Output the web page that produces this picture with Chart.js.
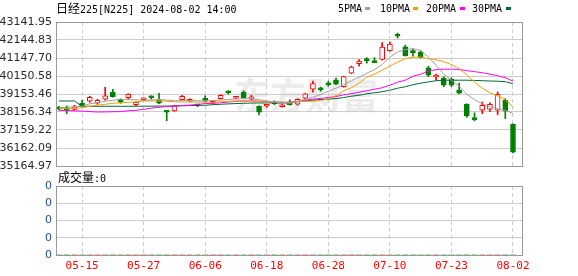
<!DOCTYPE html>
<html><head><meta charset="utf-8">
<script src="https://cdn.jsdelivr.net/npm/chart.js@4/dist/chart.umd.min.js"></script>
<style>
html,body{margin:0;padding:0;background:#fff;width:578px;height:276px;overflow:hidden;}
#wrap{position:relative;width:578px;height:276px;}
canvas{position:absolute;left:0;}
#main{top:0;}
#vol{top:170px;}
.t{position:absolute;font-family:"DejaVu Sans Mono",monospace;font-size:10px;color:#000;white-space:nowrap;line-height:12px;}
.cjk{font-family:"Noto Sans CJK SC";font-size:12px;}
.mk{position:absolute;width:5px;height:3px;top:7px;}
#wm{position:absolute;left:234px;top:75px;font-family:"Noto Sans CJK SC";font-weight:bold;font-size:36px;line-height:36px;color:#ececec;white-space:nowrap;}
</style></head>
<body><div id="wrap">
<div id="wm">东方财富</div>
<canvas id="main" width="578" height="180"></canvas>
<canvas id="vol" width="578" height="106"></canvas>
<div class="t" style="left:56px;top:2px"><span class="cjk">日经</span>225[N225] 2024-08-02 14:00</div>
<div class="t" style="left:338px;top:3px">5PMA</div><div class="mk" style="left:365px;background:#a0a0a0"></div>
<div class="t" style="left:380px;top:3px">10PMA</div><div class="mk" style="left:413px;background:#f0a000"></div>
<div class="t" style="left:426px;top:3px">20PMA</div><div class="mk" style="left:460px;background:#ff00ff"></div>
<div class="t" style="left:472px;top:3px">30PMA</div><div class="mk" style="left:506px;background:#006a33"></div>
<div class="t" style="left:58px;top:171px"><span class="cjk">成交量</span>:0</div>
</div>
<script>
// ---- data ----
const dates = ['05-10','05-13','05-14','05-15','05-16','05-17','05-20','05-21','05-22','05-23','05-24','05-27','05-28','05-29','05-30','05-31','06-03','06-04','06-05','06-06','06-07','06-10','06-11','06-12','06-13','06-14','06-17','06-18','06-19','06-20','06-21','06-24','06-25','06-26','06-27','06-28','07-01','07-02','07-03','07-04','07-05','07-08','07-09','07-10','07-11','07-12','07-16','07-17','07-18','07-19','07-22','07-23','07-24','07-25','07-26','07-29','07-30','07-31','08-01','08-02'];
const tickIdx = [3,11,19,27,35,43,51,59];
const opens = [38420,38300,38306,38640,38751,38640,38862,39251,38862,38946,38557,38834,38973,38834,38167,38223,38834,38751,38529,38918,38640,38890,39251,38918,39251,38862,38473,38473,38668,38445,38695,38584,38918,39418,39446,39696,39918,39557,40307,40835,41058,40919,41069,41547,42375,41769,41475,41475,40602,40096,40030,39974,39363,38584,37790,38251,38307,38251,38807,37473];
const highs = [38470,38500,38529,38807,39029,38862,39529,39418,38890,39168,38723,38946,39057,39196,38251,38529,39085,38890,38584,39057,38779,39112,39335,39001,39335,39085,38501,38584,38779,38584,38834,38890,39196,39863,39529,39863,40030,40141,40696,41058,41169,41169,42003,42047,42531,41864,41641,41558,40696,40252,40113,40057,39752,38612,38112,38712,38668,39268,38901,37501];
const lows = [38260,38060,38251,38418,38695,38584,38807,38973,38640,38862,38501,38807,38862,38612,37667,38195,38807,38723,38445,38723,38612,38862,39140,38890,38918,38807,38001,38418,38557,38418,38529,38529,38862,39251,39307,39585,39668,39529,40280,40696,40863,40891,41030,41530,42253,41252,41252,41141,40113,39918,39557,39557,39168,37862,37667,38068,38168,38012,37790,35889];
const closes = [38310,38290,38445,38445,38973,38807,39057,39001,38695,39140,38695,38918,38946,38640,38140,38501,39029,38834,38501,38751,38751,39085,39224,38973,38946,39001,38140,38557,38612,38557,38557,38862,39168,39724,39390,39668,39696,40113,40641,40974,41002,40891,41752,41919,42353,41280,41447,41180,40196,40124,39640,39640,39196,37934,37734,38529,38584,39140,38212,35933];
const ma5 = [38401,38418,38445,38473,38612,38668,38751,38807,38846,38862,38834,38807,38823,38846,38818,38779,38779,38796,38779,38779,38796,38818,38851,38873,38890,38901,38835,38768,38723,38696,38640,38751,38862,38973,39118,39307,39474,39668,39890,40085,40307,40502,40780,41197,41475,41613,41669,41558,41197,40752,40252,39918,39585,39140,38835,38612,38445,38334,38251,38068];
const ma10 = [38345,38345,38345,38401,38473,38529,38584,38640,38668,38696,38712,38762,38768,38768,38751,38723,38712,38712,38707,38696,38696,38723,38751,38768,38768,38768,38740,38712,38712,38712,38696,38723,38751,38751,38790,38890,39057,39335,39502,39752,40085,40252,40474,40696,40919,41113,41197,41197,41113,41058,40947,40780,40558,40213,39807,39474,39224,39057,38835,38445];
const ma20 = [38251,38234,38218,38206,38179,38156,38162,38173,38179,38223,38251,38307,38373,38418,38462,38484,38512,38540,38573,38623,38640,38668,38707,38751,38762,38768,38751,38723,38696,38668,38712,38751,38807,38862,38907,38957,39012,39112,39168,39251,39335,39418,39501,39640,39807,39918,40141,40252,40419,40502,40530,40530,40513,40447,40391,40335,40252,40168,40057,39863];
const ma30 = [38768,38768,38768,38473,38473,38473,38473,38473,38473,38473,38473,38479,38479,38484,38484,38490,38501,38512,38523,38529,38562,38584,38607,38623,38640,38651,38657,38657,38657,38657,38657,38723,38779,38818,38846,38873,38901,38957,39029,39085,39168,39224,39279,39363,39474,39557,39668,39752,39824,39890,39918,39918,39918,39918,39907,39890,39874,39863,39835,39724];
const volumes = [0,0,0,0,0,0,0,0,0,0,0,0,0,0,0,0,0,0,0,0,0,0,0,0,0,0,0,0,0,0,0,0,0,0,0,0,0,0,0,0,0,0,0,0,0,0,0,0,0,0,0,0,0,0,0,0,0,0,0,0];
const yTicks = [35164.97,36162.09,37159.22,38156.34,39153.46,40150.58,41147.70,42144.83,43141.95];
const volTicks = [0,0,0,0,0];

// ---- styles ----
const RED = '#ff0000', GRN = '#008000';
const XMIN = -0.39, XMAX = 60.17;
const idx = dates.map((d, i) => i);
const isUp = idx.map(i => closes[i] >= opens[i]);

const frame = {
  id: 'frame',
  afterDraw(chart) {
    const {ctx, chartArea: a} = chart;
    ctx.save();
    ctx.strokeStyle = '#999';
    ctx.lineWidth = 1;
    ctx.strokeRect(a.left + 0.5, a.top + 0.5, a.right - a.left, a.bottom - a.top);
    ctx.restore();
  }
};

// volume-axis labels, placed at the y scale's tick pixels
const volLabels = {
  id: 'volLabels',
  afterDraw(chart) {
    const ctx = chart.ctx;
    const a = chart.chartArea;
    const s = chart.scales.y;
    ctx.save();
    ctx.fillStyle = '#1f4e9c';
    ctx.font = '11px "DejaVu Sans"';
    ctx.textAlign = 'right';
    ctx.textBaseline = 'middle';
    volTicks.forEach((v, i) => {
      ctx.fillText(String(v), a.left - 4, s.getPixelForValue(i));
    });
    ctx.restore();
  }
};

const xTicksBuild = s => { s.ticks = tickIdx.map(v => ({value: v})); };
const gridX = {color: '#cccccc', lineWidth: 1, drawTicks: false, offset: false};
const borderX = {display: false, dash: [4, 3]};

const line = (data, color) => ({
  type: 'line', data: idx.map(i => ({x: i, y: data[i]})),
  borderColor: color, borderWidth: 1, pointRadius: 0, tension: 0, order: 0, fill: false
});

new Chart(document.getElementById('main'), {
  type: 'bar',
  data: {
    datasets: [
      line(ma5, '#a0a0a0'),
      line(ma10, '#f0a000'),
      line(ma20, '#ff00ff'),
      line(ma30, '#006a33'),
      {
        type: 'bar', order: 1, grouped: false,
        data: idx.map(i => ({x: i, y: [opens[i], closes[i]]})),
        backgroundColor: idx.map(i => isUp[i] ? '#ffffff' : GRN),
        borderColor: idx.map(i => isUp[i] ? RED : GRN),
        borderWidth: 1, borderSkipped: false, barThickness: 5, minBarLength: 2
      },
      {
        type: 'bar', order: 2, grouped: false,
        data: idx.map(i => ({x: i, y: [lows[i], highs[i]]})),
        backgroundColor: idx.map(i => isUp[i] ? RED : GRN),
        borderWidth: 0, barThickness: 1
      }
    ]
  },
  options: {
    responsive: false, animation: false, devicePixelRatio: 1,
    layout: {padding: {left: 0, right: 56, top: 22, bottom: 14}},
    plugins: {legend: {display: false}, tooltip: {enabled: false}},
    scales: {
      x: {
        type: 'linear', min: XMIN, max: XMAX, offset: false,
        afterBuildTicks: xTicksBuild,
        afterFit: s => { s.height = 0; },
        ticks: {display: false},
        grid: gridX, border: borderX
      },
      y: {
        type: 'linear', min: yTicks[0], max: yTicks[yTicks.length - 1],
        afterBuildTicks: s => { s.ticks = yTicks.map(v => ({value: v})); },
        afterFit: s => { s.width = 56; },
        ticks: {
          padding: 4, color: '#2a2a2a', autoSkip: false,
          font: {family: 'DejaVu Sans', size: 11},
          callback: v => v.toFixed(2)
        },
        grid: {color: '#cccccc', drawTicks: false},
        border: {display: false}
      }
    }
  },
  plugins: [frame]
});

new Chart(document.getElementById('vol'), {
  type: 'bar',
  data: {datasets: [{data: idx.map(i => ({x: i, y: volumes[i]})), backgroundColor: idx.map(i => isUp[i] ? RED : GRN), barThickness: 5}]},
  options: {
    responsive: false, animation: false, devicePixelRatio: 1,
    layout: {padding: {left: 56, right: 56, top: 16, bottom: 0}},
    plugins: {legend: {display: false}, tooltip: {enabled: false}},
    scales: {
      x: {
        type: 'linear', min: XMIN, max: XMAX, offset: false,
        afterBuildTicks: xTicksBuild,
        afterFit: s => { s.height = 21; },
        ticks: {
          padding: 5, color: RED, maxRotation: 0, autoSkip: false,
          font: {family: 'DejaVu Sans Mono', size: 11},
          callback: v => dates[v]
        },
        grid: gridX, border: borderX
      },
      y: {
        type: 'linear', min: 0, max: volTicks.length - 1,
        afterBuildTicks: s => { s.ticks = volTicks.map((v, i) => ({value: i})); },
        afterFit: s => { s.width = 0; },
        ticks: {display: false},
        grid: {color: '#cccccc', drawTicks: false},
        border: {display: false}
      }
    }
  },
  plugins: [frame, volLabels]
});
</script>
</body></html>
